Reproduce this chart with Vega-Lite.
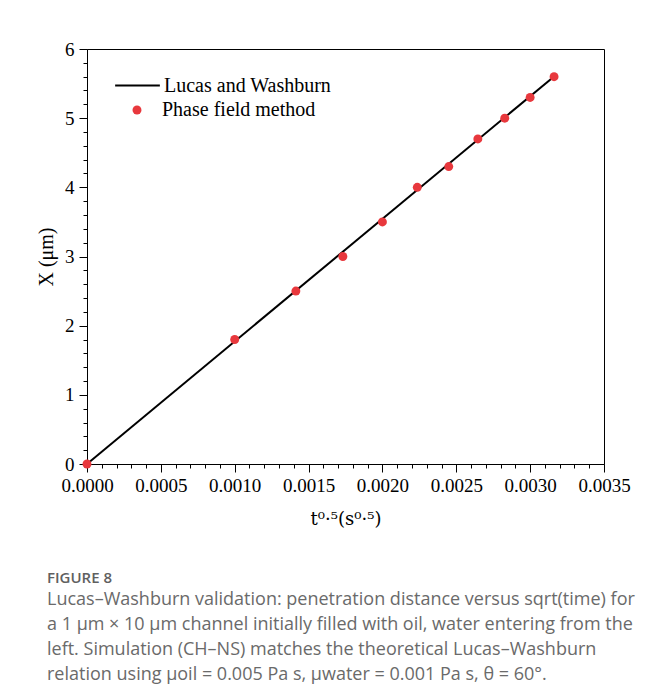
{
  "$schema": "https://vega.github.io/schema/vega-lite/v6.json",
  "width": 517,
  "height": 415,
  "autosize": {"type": "none"},
  "padding": {"left": 87, "top": 49, "right": 50, "bottom": 236},
  "background": "white",
  "config": {
    "view": {"stroke": "black", "strokeWidth": 1},
    "axis": {
      "grid": false,
      "domainColor": "black",
      "tickColor": "black",
      "labelFont": "Liberation Serif",
      "labelFontSize": 19,
      "labelColor": "black",
      "titleFont": "Liberation Serif",
      "titleFontSize": 20,
      "titleFontWeight": "normal",
      "titleColor": "black",
      "labelOverlap": false,
      "labelBound": false,
      "labelFlush": false
    },
    "legend": {
      "labelFont": "Liberation Serif",
      "labelFontSize": 20,
      "labelColor": "black",
      "labelLimit": 400,
      "padding": 0
    }
  },
  "title": {
    "text": "FIGURE 8",
    "subtitle": [
      "Lucas–Washburn validation: penetration distance versus sqrt(time) for",
      "a 1 μm × 10 μm channel initially filled with oil, water entering from the",
      "left. Simulation (CH–NS) matches the theoretical Lucas–Washburn",
      "relation using μoil = 0.005 Pa s, μwater = 0.001 Pa s, θ = 60°."
    ],
    "orient": "bottom",
    "anchor": "start",
    "frame": "group",
    "dx": -40,
    "offset": 43,
    "font": "Open Sans",
    "fontSize": 15,
    "fontWeight": 600,
    "color": "#606060",
    "subtitleFont": "Open Sans",
    "subtitleFontSize": 18,
    "subtitleFontWeight": "normal",
    "subtitleColor": "#6a6a6a",
    "subtitleLineHeight": 25,
    "subtitlePadding": 5
  },
  "datasets": {
    "theory": [
      {"t": 0, "X": 0, "series": "Lucas and Washburn"},
      {"t": 0.00316, "X": 5.6, "series": "Lucas and Washburn"}
    ],
    "sim": [
      {"t": 0, "X": 0, "series": "Phase field method"},
      {"t": 0.001, "X": 1.8, "series": "Phase field method"},
      {"t": 0.001414, "X": 2.5, "series": "Phase field method"},
      {"t": 0.001732, "X": 3.0, "series": "Phase field method"},
      {"t": 0.002, "X": 3.5, "series": "Phase field method"},
      {"t": 0.002236, "X": 4.0, "series": "Phase field method"},
      {"t": 0.002449, "X": 4.3, "series": "Phase field method"},
      {"t": 0.002646, "X": 4.7, "series": "Phase field method"},
      {"t": 0.002828, "X": 5.0, "series": "Phase field method"},
      {"t": 0.003, "X": 5.3, "series": "Phase field method"},
      {"t": 0.003162, "X": 5.6, "series": "Phase field method"}
    ]
  },
  "encoding": {
    "x": {
      "field": "t",
      "type": "quantitative",
      "scale": {"domain": [0, 0.0035], "nice": false, "zero": false},
      "axis": {
        "title": "t⁰·⁵(s⁰·⁵)",
        "titleFont": "DejaVu Serif",
        "titleFontSize": 18,
        "values": [0, 0.0001, 0.0002, 0.0003, 0.0004, 0.0005, 0.0006, 0.0007, 0.0008, 0.0009, 0.001, 0.0011, 0.0012, 0.0013, 0.0014, 0.0015, 0.0016, 0.0017, 0.0018, 0.0019, 0.002, 0.0021, 0.0022, 0.0023, 0.0024, 0.0025, 0.0026, 0.0027, 0.0028, 0.0029, 0.003, 0.0031, 0.0032, 0.0033, 0.0034, 0.0035],
        "labelExpr": "abs(datum.value*2000 - round(datum.value*2000)) < 0.001 ? format(datum.value, '.4f') : ''",
        "tickSize": {"condition": {"test": "abs(datum.value*2000 - round(datum.value*2000)) < 0.001", "value": 8}, "value": 4},
        "labelPadding": 4,
        "titlePadding": 15
      }
    },
    "y": {
      "field": "X",
      "type": "quantitative",
      "scale": {"domain": [0, 6], "nice": false, "zero": false},
      "axis": {
        "title": "X (μm)",
        "values": [0, 0.2, 0.4, 0.6, 0.8, 1, 1.2, 1.4, 1.6, 1.8, 2, 2.2, 2.4, 2.6, 2.8, 3, 3.2, 3.4, 3.6, 3.8, 4, 4.2, 4.4, 4.6, 4.8, 5, 5.2, 5.4, 5.6, 5.8, 6],
        "labelExpr": "abs(datum.value - round(datum.value)) < 0.001 ? format(datum.value, 'd') : ''",
        "tickSize": {"condition": {"test": "abs(datum.value - round(datum.value)) < 0.001", "value": 8}, "value": 4},
        "labelPadding": 5,
        "titlePadding": 8
      }
    }
  },
  "layer": [
    {
      "data": {"name": "theory"},
      "mark": {"type": "line", "strokeWidth": 2},
      "encoding": {
        "stroke": {
          "field": "series",
          "type": "nominal",
          "scale": {"range": ["black"]},
          "legend": {
            "title": null,
            "orient": "none",
            "legendX": 27,
            "legendY": 13,
            "symbolType": "stroke",
            "symbolSize": 2000,
            "symbolStrokeWidth": 2,
            "labelOffset": 3
          }
        }
      }
    },
    {
      "data": {"name": "sim"},
      "mark": {"type": "circle", "size": 80, "opacity": 1},
      "encoding": {
        "fill": {
          "field": "series",
          "type": "nominal",
          "scale": {"range": ["#e8383d"]},
          "legend": {
            "title": null,
            "orient": "none",
            "legendX": 40,
            "legendY": 51,
            "symbolType": "circle",
            "symbolSize": 80,
            "symbolStrokeWidth": 0,
            "symbolOpacity": 1,
            "labelOffset": 15
          }
        }
      }
    }
  ]
}
